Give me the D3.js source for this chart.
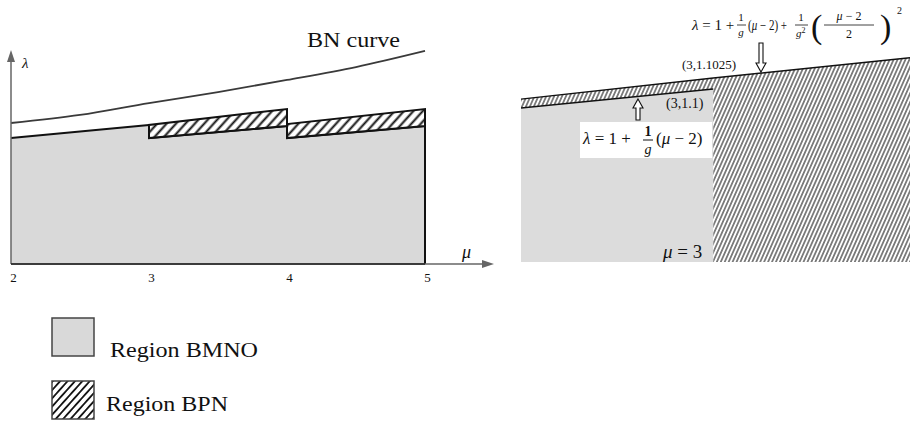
<!DOCTYPE html>
<html>
<head>
<meta charset="utf-8">
<script src="https://cdn.jsdelivr.net/npm/d3@7"></script>
<style>
  body { margin: 0; background: #fff; }
  svg, text, tspan { font-family: "Liberation Serif", "Times New Roman", serif; }
  text { fill: #111; }
</style>
</head>
<body>
<svg id="chart" width="910" height="423" font-family="Liberation Serif, serif"></svg>
<script>
// Left panel (schematic), lambda in relative units
var muTicks = [2, 3, 4, 5];
var bnMu = [2, 2.5, 3, 3.5, 4, 4.5, 5];
var bnLambda = [0.665, 0.703, 0.759, 0.811, 0.868, 0.929, 1.005];
// region BMNO, top edge of each unit segment [at start, at end]
var segments = [[2, 3], [3, 4], [4, 5]];
var grayTop = [[0.594, 0.656], [0.594, 0.651], [0.594, 0.651]];
// region BPN, top edge of the hatched band (null = none)
var hatchTop = [null, [0.656, 0.731], [0.660, 0.731]];

// Right panel, zoom around mu = 3
var zoomMu = [2.957, 3, 3.044];
var upperLambda = [1.0977, 1.1025, 1.1071];
var lowerMu = [2.957, 3];
var lowerLambda = [1.0957, 1.1];
var zoomBottom = 1.0607;

var legendLabels = ["Region BMNO", "Region BPN"];

var svg = d3.select("#chart");
var defs = svg.append("defs");

function hatch(id, size, angle, width) {
    var p = defs.append("pattern")
        .attr("id", id)
        .attr("patternUnits", "userSpaceOnUse")
        .attr("width", size).attr("height", size)
        .attr("patternTransform", "rotate(" + angle + ")");
    p.append("rect").attr("width", size).attr("height", size).attr("fill", "#fff");
    p.append("line")
        .attr("x1", size / 2).attr("x2", size / 2)
        .attr("y1", -1).attr("y2", size + 1)
        .attr("stroke", "#111").attr("stroke-width", width);
}
hatch("hatchBig", 7, 42, 2);
hatch("hatchLegend", 5.5, 42, 1.8);
hatch("hatchFine", 3.6, 24, 1);

var gray = "#d9d9d9";

// text made of plain and italic runs: parts = [[string, italic], ...]
function mathText(g, px, py, size, parts, anchor) {
    var t = g.append("text")
        .attr("x", px).attr("y", py)
        .attr("font-size", size)
        .attr("text-anchor", anchor || "start");
    parts.forEach(function(p) {
        var s = t.append("tspan").text(p[0]);
        if(p[1]) s.attr("font-style", "italic");
    });
    return t;
}

// ---------- left panel ----------
var x = d3.scaleLinear().domain([2, 5]).range([11, 425]);
var y = d3.scaleLinear().domain([0, 1]).range([264, 52]);
var left = svg.append("g");

// gray region
left.selectAll("path.bmno")
    .data(segments)
    .enter().append("path")
    .attr("class", "bmno")
    .attr("fill", gray)
    .attr("d", function(s, i) {
        return "M" + x(s[0]) + "," + y(0) +
            "L" + x(s[0]) + "," + y(grayTop[i][0]) +
            "L" + x(s[1]) + "," + y(grayTop[i][1]) +
            "L" + x(s[1]) + "," + y(0) + "Z";
    });

// top edges of gray region
left.selectAll("line.edge")
    .data(segments)
    .enter().append("line")
    .attr("class", "edge")
    .attr("x1", function(s) { return x(s[0]); })
    .attr("x2", function(s) { return x(s[1]); })
    .attr("y1", function(s, i) { return y(grayTop[i][0]); })
    .attr("y2", function(s, i) { return y(grayTop[i][1]); })
    .attr("stroke", "#111").attr("stroke-width", 2);

// hatched bands
left.selectAll("path.bpn")
    .data(segments.filter(function(s, i) { return hatchTop[i]; }))
    .enter().append("path")
    .attr("class", "bpn")
    .attr("fill", "url(#hatchBig)")
    .attr("stroke", "#111").attr("stroke-width", 2)
    .attr("d", function(s) {
        var i = segments.indexOf(s);
        return "M" + x(s[0]) + "," + y(grayTop[i][0]) +
            "L" + x(s[0]) + "," + y(hatchTop[i][0]) +
            "L" + x(s[1]) + "," + y(hatchTop[i][1]) +
            "L" + x(s[1]) + "," + y(grayTop[i][1]) + "Z";
    });

// right edge at mu = 5
left.append("line")
    .attr("x1", x(5)).attr("x2", x(5))
    .attr("y1", y(hatchTop[2][1])).attr("y2", y(0))
    .attr("stroke", "#111").attr("stroke-width", 2);

// BN curve
var bnLine = d3.line()
    .x(function(d, i) { return x(bnMu[i]); })
    .y(function(d) { return y(d); })
    .curve(d3.curveMonotoneX);
left.append("path")
    .datum(bnLambda)
    .attr("d", bnLine)
    .attr("fill", "none")
    .attr("stroke", "#3a3a3a").attr("stroke-width", 1.8);

left.append("text")
    .attr("x", 307).attr("y", 47)
    .attr("font-size", 21)
    .attr("textLength", 93).attr("lengthAdjust", "spacingAndGlyphs")
    .text("BN curve");

// axes
left.append("line")
    .attr("x1", x(2)).attr("x2", x(2)).attr("y1", y(0)).attr("y2", 58)
    .attr("stroke", "#666").attr("stroke-width", 1.5);
left.append("path")
    .attr("d", "M" + (x(2) - 4) + ",62L" + x(2) + ",50L" + (x(2) + 4) + ",62Z")
    .attr("fill", "#666");
left.append("line")
    .attr("x1", x(2)).attr("x2", 486).attr("y1", y(0)).attr("y2", y(0))
    .attr("stroke", "#666").attr("stroke-width", 1.5);
left.append("path")
    .attr("d", "M482," + (y(0) - 4) + "L494," + y(0) + "L482," + (y(0) + 4) + "Z")
    .attr("fill", "#666");
left.append("line")
    .attr("x1", x(2)).attr("x2", x(5)).attr("y1", y(0)).attr("y2", y(0))
    .attr("stroke", "#222").attr("stroke-width", 1.5);

var xAxis = d3.axisBottom(x).tickValues(muTicks).tickSize(0).tickFormat(d3.format("d"));
var ax = left.append("g")
    .attr("transform", "translate(2," + (y(0) + 6) + ")")
    .call(xAxis);
ax.select(".domain").remove();
ax.selectAll("text")
    .attr("font-family", "Liberation Serif, serif")
    .attr("font-size", 13)
    .attr("fill", "#111");

left.append("text")
    .attr("x", 22).attr("y", 68)
    .attr("font-size", 15).attr("font-style", "italic")
    .attr("fill", "#555")
    .text("λ");
left.append("text")
    .attr("x", 462).attr("y", 258)
    .attr("font-size", 18).attr("font-style", "italic")
    .text("μ");

// ---------- legend ----------
var legend = svg.append("g");
legend.selectAll("rect")
    .data(legendLabels)
    .enter().append("rect")
    .attr("x", 52)
    .attr("y", function(d, i) { return 318 + i * 63; })
    .attr("width", 42).attr("height", 38)
    .attr("fill", function(d, i) { return i == 0 ? gray : "url(#hatchLegend)"; })
    .attr("stroke", "#444").attr("stroke-width", 1.5);
legend.selectAll("text")
    .data(legendLabels)
    .enter().append("text")
    .attr("x", function(d, i) { return i == 0 ? 110 : 106; })
    .attr("y", function(d, i) { return 357 + i * 54; })
    .attr("font-size", 22)
    .attr("textLength", function(d, i) { return i == 0 ? 148 : 122; })
    .attr("lengthAdjust", "spacingAndGlyphs")
    .text(function(d) { return d; });

// ---------- right panel ----------
var zx = d3.scaleLinear().domain([2.957, 3.044]).range([521, 910]);
var zy = d3.scaleLinear().domain([zoomBottom, 1.1025]).range([262, 78]);
var right = svg.append("g");

var upperPts = zoomMu.map(function(m, i) { return [m, upperLambda[i]]; });
var lowerPts = lowerMu.map(function(m, i) { return [m, lowerLambda[i]]; });

var area = d3.area()
    .x(function(d) { return zx(d[0]); })
    .y0(zy(zoomBottom))
    .y1(function(d) { return zy(d[1]); });

right.append("path")
    .datum(lowerPts)
    .attr("d", area)
    .attr("fill", "#dcdcdc");

right.append("path")
    .datum(upperPts.slice(1))
    .attr("d", area)
    .attr("fill", "url(#hatchFine)");

var strip = d3.area()
    .x(function(d) { return zx(d[0]); })
    .y0(function(d, i) { return zy(lowerPts[i][1]); })
    .y1(function(d) { return zy(d[1]); });
right.append("path")
    .datum(upperPts.slice(0, 2))
    .attr("d", strip)
    .attr("fill", "url(#hatchFine)");

var zline = d3.line()
    .x(function(d) { return zx(d[0]); })
    .y(function(d) { return zy(d[1]); });
right.append("path").datum(upperPts).attr("d", zline)
    .attr("fill", "none").attr("stroke", "#111").attr("stroke-width", 1.5);
right.append("path").datum(lowerPts).attr("d", zline)
    .attr("fill", "none").attr("stroke", "#111").attr("stroke-width", 1.5);

// point labels
right.append("text").attr("x", 682).attr("y", 69).attr("font-size", 13).text("(3,1.1025)");
right.append("text").attr("x", 666).attr("y", 108).attr("font-size", 14).text("(3,1.1)");
mathText(right, 663, 258, 19, [["μ", true], [" = 3", false]]);

// hollow arrows
function hollowArrow(cx, tip, tail, dir) {
    var h = 9 * dir;
    var d = "M" + cx + "," + tip +
        "L" + (cx + 5) + "," + (tip + h) +
        "L" + (cx + 2) + "," + (tip + h) +
        "L" + (cx + 2) + "," + tail +
        "L" + (cx - 2) + "," + tail +
        "L" + (cx - 2) + "," + (tip + h) +
        "L" + (cx - 5) + "," + (tip + h) + "Z";
    right.append("path").attr("d", d)
        .attr("fill", "#fff").attr("stroke", "#111").attr("stroke-width", 1.1);
}
hollowArrow(638, 99, 120, 1);
hollowArrow(761, 72, 43, -1);

// formula under the lower edge
right.append("rect").attr("x", 580).attr("y", 122).attr("width", 132).attr("height", 36)
    .attr("fill", "#fff");
mathText(right, 583, 144, 17, [["λ", true], [" = 1 +", false]]);
right.append("text").attr("x", 648).attr("y", 136).attr("font-size", 14)
    .attr("font-weight", "bold").attr("text-anchor", "middle").text("1");
right.append("line").attr("x1", 643).attr("x2", 653).attr("y1", 140).attr("y2", 140)
    .attr("stroke", "#111").attr("stroke-width", 1);
mathText(right, 648, 154, 14, [["g", true]], "middle");
mathText(right, 656, 144, 17, [["(", false], ["μ", true], [" − 2)", false]]);

// formula of the BN curve
mathText(right, 692, 30, 15, [["λ", true], [" = 1 +", false]]);
right.append("text").attr("x", 741).attr("y", 21).attr("font-size", 11)
    .attr("text-anchor", "middle").text("1");
right.append("line").attr("x1", 737).attr("x2", 746).attr("y1", 25).attr("y2", 25)
    .attr("stroke", "#111").attr("stroke-width", 0.8);
mathText(right, 741, 36, 11, [["g", true]], "middle");
mathText(right, 748, 30, 14, [["(", false], ["μ", true], [" − 2) +", false]])
    .attr("textLength", 39).attr("lengthAdjust", "spacingAndGlyphs");
right.append("text").attr("x", 801).attr("y", 21).attr("font-size", 11)
    .attr("text-anchor", "middle").text("1");
right.append("line").attr("x1", 795).attr("x2", 808).attr("y1", 25).attr("y2", 25)
    .attr("stroke", "#111").attr("stroke-width", 0.8);
var g2 = right.append("text").attr("x", 796).attr("y", 37).attr("font-size", 11);
g2.append("tspan").attr("font-style", "italic").text("g");
g2.append("tspan").attr("font-size", 8).attr("dy", -4).text("2");
right.append("text").attr("x", 811).attr("y", 38).attr("font-size", 34)
    .attr("font-weight", "200").text("(");
mathText(right, 849, 20, 12, [["μ", true], [" − 2", false]], "middle");
right.append("line").attr("x1", 824).attr("x2", 874).attr("y1", 25).attr("y2", 25)
    .attr("stroke", "#111").attr("stroke-width", 0.8);
right.append("text").attr("x", 849).attr("y", 38).attr("font-size", 12)
    .attr("text-anchor", "middle").text("2");
right.append("text").attr("x", 880).attr("y", 38).attr("font-size", 34)
    .attr("font-weight", "200").text(")");
right.append("text").attr("x", 897).attr("y", 14).attr("font-size", 10).text("2");
</script>
</body>
</html>
